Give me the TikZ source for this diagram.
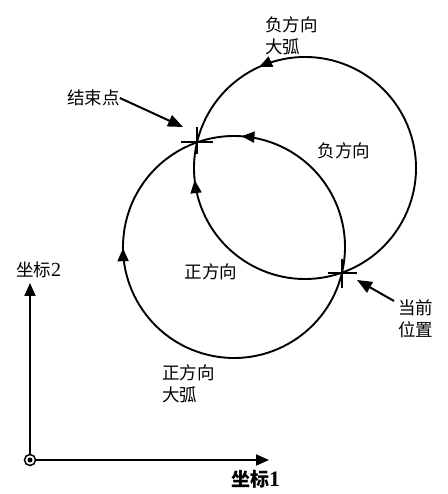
\documentclass[tikz,border=0pt]{standalone}
\usepackage{fontspec}
\newfontfamily\cjk{Noto Sans CJK SC}
\newfontfamily\lser{Liberation Serif}
\usetikzlibrary{arrows.meta,decorations.markings,calc}
\tikzset{
  curve/.style={line width=1.9pt},
  tri/.tip={Triangle[length=13pt,width=11pt]},
  lab/.style={font=\cjk\fontsize{17.5}{22}\selectfont, inner sep=0pt, align=left},
  pointer/.style={line width=2pt, -{Triangle[length=15pt,width=12pt]}},
  axis/.style={line width=1.9pt, -{Triangle[length=13pt,width=11pt]}},
  crossline/.style={line width=1.7pt},
  mark arrow/.style={postaction={decorate}, decoration={markings, mark=at position #1 with {\arrow{tri}}}}
}
\begin{document}
\begin{tikzpicture}[x=1pt,y=1pt]
\useasboundingbox (0,0) rectangle (447,494);
% centres and intersections
\coordinate (U) at (305,326);
\coordinate (L) at (234,247);
\coordinate (E) at (197,351.7);
\coordinate (C) at (342,221.3);
% upper circle: major arc (ccw) and minor arc (cw)
\draw[curve, mark arrow=0.78] ([shift={(U)}]-70.5:111) arc[start angle=-70.5, end angle=166.6, radius=111];
\draw[curve, mark arrow=0.84] ([shift={(U)}]-70.5:111) arc[start angle=-70.5, end angle=-193.4, radius=111];
% lower circle: minor arc (ccw) and major arc (cw)
\draw[curve, mark arrow=0.81] ([shift={(L)}]-13.4:111) arc[start angle=-13.4, end angle=109.5, radius=111];
\draw[curve, mark arrow=0.70] ([shift={(L)}]-13.4:111) arc[start angle=-13.4, end angle=-250.5, radius=111];
% crosses
\draw[crossline] ([xshift=-16pt]E) -- ([xshift=16pt]E);
\draw[crossline] ([yshift=15pt]E) -- ([yshift=-12pt]E);
\draw[crossline] ([xshift=-14pt]C) -- ([xshift=15pt]C);
\draw[crossline] ([yshift=14pt]C) -- ([yshift=-15pt]C);
% labels
\node[lab, anchor=west] (negbig) at (265,458) {负方向\\大弧};
\node[lab, anchor=west] (endpt) at (67,396) {结束点};
\node[lab] (neg) at (344,343) {负方向};
\node[lab] (pos) at (211,222) {正方向};
\node[lab, anchor=west] (cur) at (398,175) {当前\\位置};
\node[lab, anchor=west] (posbig) at (162,110) {正方向\\大弧};
\node[lab, anchor=west] (ax2) at (16,224) {坐标{\lser\fontsize{20}{22}\selectfont 2}};
\node[lab, anchor=west, font=\cjk\bfseries\fontsize{19}{22}\selectfont] (ax1) at (231,15) {坐标{\lser\bfseries\fontsize{22}{22}\selectfont 1}};
% pointers
\coordinate (Etip) at (183,367);
\coordinate (Ctip) at (357,214);
\coordinate (Cstart) at (394,193);
\draw[pointer] (endpt.east) -- (Etip);
\draw[pointer] (Cstart) -- (Ctip);
% axes
\node[circle, draw, line width=1.5pt, minimum size=11pt, inner sep=0pt] (O) at (30,34) {};
\fill (O) circle (2.5pt);
\coordinate (Y) at (30,211);
\coordinate (X) at (269,34);
\draw[axis] (O.north) -- (Y);
\draw[axis] (O.east) -- (X);
\end{tikzpicture}
\end{document}
